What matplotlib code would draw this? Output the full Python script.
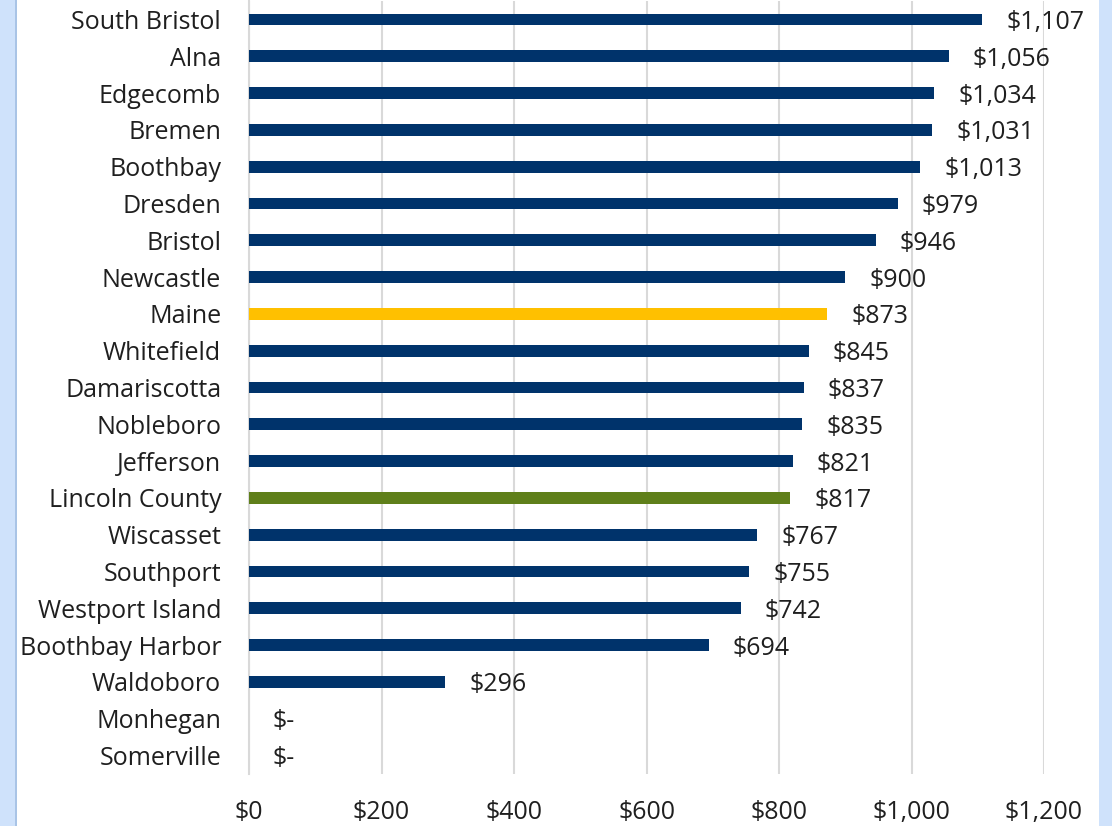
import matplotlib.pyplot as plt
from matplotlib.patches import Rectangle

# data, top to bottom
towns = ["South Bristol", "Alna", "Edgecomb", "Bremen", "Boothbay", "Dresden",
         "Bristol", "Newcastle", "Maine", "Whitefield", "Damariscotta",
         "Nobleboro", "Jefferson", "Lincoln County", "Wiscasset", "Southport",
         "Westport Island", "Boothbay Harbor", "Waldoboro", "Monhegan",
         "Somerville"]
values = [1107, 1056, 1034, 1031, 1013, 979, 946, 900, 873, 845, 837, 835,
          821, 817, 767, 755, 742, 694, 296, 0, 0]

navy = "#00336b"
colors = []
for t in towns:
    if t == "Maine":
        colors.append("#ffc000")
    elif t == "Lincoln County":
        colors.append("#5f7f1a")
    else:
        colors.append(navy)

plt.rcParams['font.family'] = ['Open Sans', 'DejaVu Sans']
fs = 18
txt = "#1f1f1f"

fig = plt.figure(figsize=(11.12, 8.26), dpi=100)
fig.patch.set_facecolor("white")

# light blue side strips
fig.add_artist(Rectangle((0, 0), 15 / 1112, 1, transform=fig.transFigure,
                         facecolor="#cfe2fb", edgecolor="none", zorder=-5))
fig.add_artist(Rectangle((15 / 1112, 0), 1.5 / 1112, 1, transform=fig.transFigure,
                         facecolor="#a9c4e6", edgecolor="none", zorder=-5))
fig.add_artist(Rectangle((1099 / 1112, 0), 13 / 1112, 1, transform=fig.transFigure,
                         facecolor="#cfe2fb", edgecolor="none", zorder=-5))

ax = fig.add_axes([249 / 1112, 1 - 774 / 826, (1044 - 249) / 1112, 773 / 826])

y = list(range(len(towns)))
ax.barh(y, values, height=0.32, color=colors, zorder=3)

for yi, v in zip(y, values):
    lbl = "$-" if v == 0 else "${:,}".format(v)
    ax.annotate(lbl, (v, yi), xytext=(24, 0), textcoords="offset pixels",
                va="center_baseline", ha="left", fontsize=fs, color=txt)

ax.set_ylim(len(towns) - 0.5, -0.5)
ax.set_xlim(0, 1200)
ax.set_yticks(y)
ax.set_yticklabels(towns, fontsize=fs, color=txt, va="center_baseline")
ticks = [0, 200, 400, 600, 800, 1000, 1200]
ax.set_xticks(ticks)
ax.set_xticklabels(["${:,}".format(t) for t in ticks], fontsize=fs, color=txt)
ax.tick_params(axis="both", length=0)
ax.tick_params(axis="y", pad=20)
ax.tick_params(axis="x", pad=19)

ax.grid(axis="x", color="#d9d9d9", linewidth=1.5, zorder=0)
for s in ["top", "right", "bottom"]:
    ax.spines[s].set_visible(False)
ax.spines["left"].set_color("#d9d9d9")
ax.spines["left"].set_linewidth(1.5)

plt.savefig("out.png", dpi=100)
